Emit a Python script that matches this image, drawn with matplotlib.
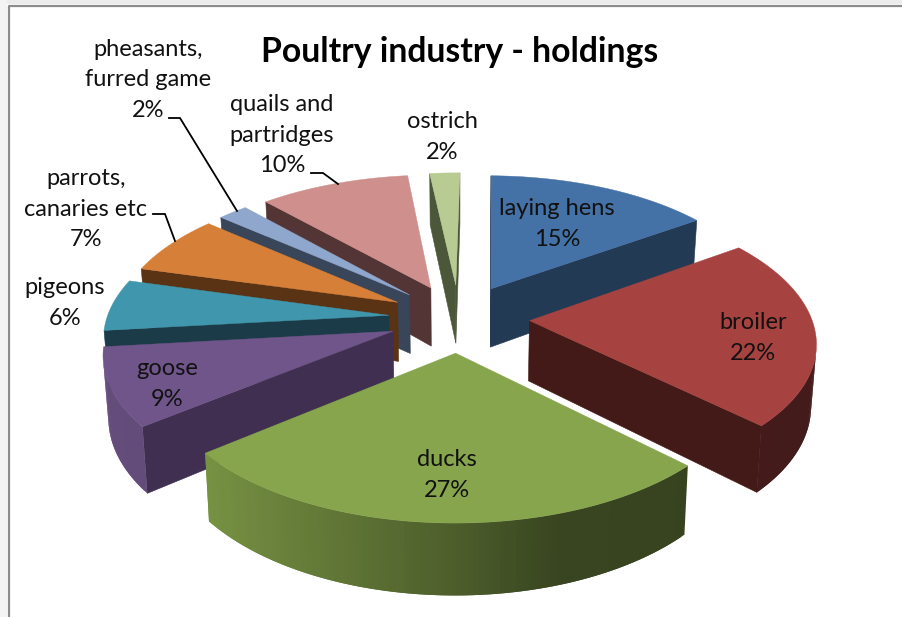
import numpy as np
import matplotlib
matplotlib.use('Agg')
import matplotlib.pyplot as plt
from matplotlib.colors import to_rgb

###############################################################################
# Chart data
###############################################################################
title = 'Poultry industry - holdings'
categories = ['laying hens', 'broiler', 'ducks', 'goose', 'pigeons',
              'parrots,\ncanaries etc', 'pheasants,\nfurred game',
              'quails and\npartridges', 'ostrich']
shares = [15, 22, 27, 9, 6, 7, 2, 10, 2]
top_colors = ['#4471a6', '#a64340', '#87a54c', '#70558a', '#3f96ad',
              '#d67f38', '#8fa6cd', '#cf8f8d', '#b7cb93']
side_colors = ['#233a55', '#431a18', '#37411c', '#402f50', '#1a3b47',
               '#5a3315', '#394559', '#533535', '#4c573a']
label_x = [557, 753, 447, 167, 65, 86, 148, 282, 442]
label_y = [224, 338, 475, 384, 303, 209, 80, 135, 137]
leader_lines = [[(153, 214), (165, 214), (175, 241)],
                [(169, 118), (180, 118), (237, 211)],
                [(311, 173), (323, 173), (338, 184)]]

###############################################################################
# Projection of the exploded pie, all in reference pixels
###############################################################################
cx, cy = 459, 318
rad_x, rad_y = 282, 136
persp = 0.137
explode = 0.25
depth = 60
bottom_scale = 0.985
first_angle = np.radians(0.9)


def project(u, v, low=False):
    w = 1 + persp * v
    if low:
        return cx + rad_x * u * bottom_scale / w, cy - rad_y * v / w + depth / w
    return cx + rad_x * u / w, cy - rad_y * v / w


def wall_shade(s):
    # brightness of the outer wall, from left facing to right facing
    return np.interp(s, [-1, -0.77, 0, 0.3, 1], [0.9, 0.88, 0.57, 0.42, 0.4])


def area(pts):
    x, y = np.array(pts).T
    return 0.5 * np.sum(x * np.roll(y, -1) - np.roll(x, -1) * y)


fig = plt.figure(figsize=(9.02, 6.17), dpi=100)
ax = fig.add_axes([0, 0, 1, 1])
ax.set_xlim(0, 902)
ax.set_ylim(617, 0)
ax.axis('off')

plt.rcParams['font.family'] = ['Lato', 'DejaVu Sans']

# the screenshot frame around the chart
ax.fill_between([0, 902], 0, 4, color='#ececec', lw=0)
ax.fill_between([0, 7], 0, 617, color='#f4f4f4', lw=0)
ax.plot([8.5, 8.5, 902], [617, 5.5, 5.5], color='#8c8c8c', lw=1.6)

total = sum(shares)
edges = first_angle + np.cumsum([0] + shares) / total * 2 * np.pi
mids = (edges[:-1] + edges[1:]) / 2

# back wedges first, front wedges over them
for i in np.argsort(-np.cos(mids)):
    ou, ov = explode * np.sin(mids[i]), explode * np.cos(mids[i])
    t = np.linspace(edges[i], edges[i + 1], max(int(shares[i] * 4), 4))
    us = ou + np.sin(t)
    vs = ov + np.cos(t)
    top = [project(a, b) for a, b in zip(us, vs)]
    low = [project(a, b, True) for a, b in zip(us, vs)]
    apex = project(ou, ov)
    apex_low = project(ou, ov, True)

    # the two flat cut faces, only where they look to the viewer
    start_face = [apex, top[0], low[0], apex_low]
    end_face = [apex, apex_low, low[-1], top[-1]]
    for face in [start_face, end_face]:
        if area(face) < 0:
            ax.fill(*zip(*face), color=side_colors[i], lw=0.4)

    # the round outer wall in thin strips for the shading, each one
    # reaching under the next so that no seams show
    base = np.array(to_rgb(top_colors[i]))
    for j in range(len(t) - 1):
        k = min(j + 2, len(t) - 1)
        strip = [top[j], top[k], low[k], low[j]]
        if area(strip) > 0:
            continue
        col = np.clip(base * wall_shade(np.sin((t[j] + t[j + 1]) / 2)), 0, 1)
        ax.fill(*zip(*strip), color=col, lw=0)

    ax.fill(*zip(*([apex] + top)), color=top_colors[i], lw=0.3)

for line in leader_lines:
    ax.plot(*zip(*line), color='black', lw=1.3, solid_joinstyle='miter')

for name, share, x, y in zip(categories, shares, label_x, label_y):
    ax.text(x, y, '%s\n%d%%' % (name, round(share * 100 / total)), ha='center',
            va='center', fontsize=17, color='#111111', linespacing=1.56)

ax.text(460, 52, title, ha='center', va='center', fontsize=24.3,
        fontweight='bold', color='black')

fig.savefig('out.png', dpi=100)
